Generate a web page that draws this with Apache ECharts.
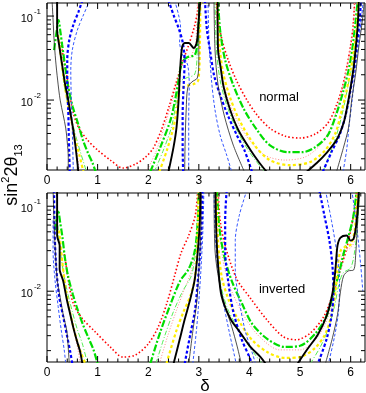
<!DOCTYPE html>
<html><head><meta charset="utf-8">
<script src="https://cdn.jsdelivr.net/npm/echarts@6/dist/echarts.min.js"></script>
<style>html,body{margin:0;padding:0;background:#fff}#c{width:366px;height:393px}</style>
</head><body><div id="c"></div>
<script>
const FONT = 'Liberation Sans, Arial, sans-serif';
const deltaMin = 0, deltaMax = 2 * Math.PI;
const sMin = 0.00147, sMax = 0.143;
const xTickLabels = [0, 1, 2, 3, 4, 5, 6];
const yMajorTicks = [0.01, 0.1];
const yMinorTicks = [0.002,0.003,0.004,0.005,0.006,0.007,0.008,0.009,0.02,0.03,0.04,0.05,0.06,0.07,0.08,0.09];
const panelLabels = ['normal', 'inverted'];

// ---- normal hierarchy (top panel): [delta, sin^2 2theta13]
const nRedA = [[0.28,0.049],[0.33,0.0299],[0.40,0.0183],[0.45,0.0115],[0.52,0.0070],[0.62,0.00477],[0.80,0.00334],[1.0,0.00254],[1.25,0.00193],[1.50,0.00155],[1.75,0.00173],[1.95,0.0021],[2.1,0.00268],[2.26,0.0044],[2.42,0.00871],[2.55,0.0159],[2.67,0.0275],[2.80,0.0452],[2.92,0.0782],[2.98,0.118],[3.0,0.155]];
const nRedB = [[3.34,0.155],[3.38,0.0896],[3.46,0.0518],[3.58,0.0299],[3.74,0.0173],[3.95,0.0100],[4.15,0.00663],[4.4,0.00464],[4.7,0.00373],[5.0,0.00353],[5.3,0.00394],[5.55,0.00532],[5.72,0.00871],[5.83,0.0139],[5.92,0.024],[6.0,0.0452],[6.05,0.0782],[6.08,0.155]];
const nPinkA = [[0.26,0.0452],[0.32,0.0216],[0.38,0.0115],[0.46,0.00628],[0.54,0.00363],[0.60,0.00221],[0.64,0.0014]];
const nPinkB = [[1.96,0.0014],[2.15,0.0024],[2.33,0.00504],[2.48,0.01],[2.58,0.0173],[2.68,0.0261],[2.82,0.0316],[2.93,0.0452],[2.96,0.0896],[2.97,0.155]];
const nPinkC = [[3.34,0.155],[3.38,0.0518],[3.45,0.0228],[3.55,0.0115],[3.75,0.00578],[4.0,0.00334],[4.3,0.00221],[4.7,0.00193],[5.1,0.0021],[5.4,0.00291],[5.6,0.00464],[5.75,0.00871],[5.85,0.0151],[5.95,0.0299],[6.03,0.0594],[6.08,0.155]];
const nGreenA = [[0.14,0.0394],[0.18,0.0594],[0.23,0.0896],[0.26,0.0681],[0.30,0.0452],[0.36,0.0247],[0.42,0.0143],[0.51,0.00826],[0.61,0.00532],[0.71,0.00334],[0.81,0.00234],[0.90,0.00178],[0.96,0.0014]];
const nGreenB = [[2.04,0.0014],[2.24,0.00275],[2.44,0.00578],[2.53,0.01],[2.60,0.0173],[2.67,0.0283],[2.78,0.0325],[2.92,0.0344],[2.98,0.0518],[3.0,0.0896],[3.01,0.155]];
const nGreenC = [[3.38,0.155],[3.42,0.0681],[3.52,0.0299],[3.68,0.0151],[3.9,0.0076],[4.15,0.0044],[4.4,0.00291],[4.75,0.0024],[5.05,0.0024],[5.3,0.00275],[5.55,0.00383],[5.73,0.0072],[5.85,0.0125],[5.95,0.0216],[6.03,0.0394],[6.1,0.0896],[6.14,0.155]];
const nLGreenA = [[0.20,0.072],[0.24,0.0518],[0.28,0.0299],[0.34,0.0151],[0.42,0.00871],[0.50,0.00547],[0.58,0.00353],[0.66,0.0024],[0.74,0.00168],[0.78,0.0014]];
const nLGreenB = [[2.12,0.0014],[2.3,0.00254],[2.46,0.00477],[2.56,0.01],[2.62,0.0164],[2.75,0.0183],[2.92,0.0204],[2.97,0.0394],[2.99,0.0896],[3.0,0.155]];
const nLGreenC = [[3.32,0.155],[3.35,0.0394],[3.42,0.0173],[3.55,0.00871],[3.75,0.0044],[4.0,0.0024],[4.3,0.0014]];
const nLGreenD = [[5.45,0.0014],[5.62,0.00254],[5.75,0.0044],[5.85,0.0076],[5.95,0.0151],[6.05,0.0299],[6.12,0.0681],[6.18,0.155]];
const nYellowA = [[0.22,0.0594],[0.27,0.0344],[0.33,0.0183],[0.40,0.01],[0.48,0.00578],[0.56,0.00334],[0.64,0.00221],[0.72,0.0014]];
const nYellowB = [[2.22,0.0014],[2.37,0.00254],[2.5,0.00477],[2.58,0.00871],[2.62,0.0132],[2.75,0.0147],[2.9,0.0155],[2.99,0.0173],[3.02,0.0452],[3.03,0.155]];
const nYellowC = [[3.36,0.155],[3.40,0.0518],[3.47,0.0228],[3.6,0.0115],[3.8,0.00578],[4.1,0.00291],[4.4,0.00193],[4.8,0.00168],[5.2,0.00183],[5.5,0.00254],[5.7,0.00405],[5.8,0.00663],[5.9,0.0115],[6.0,0.0228],[6.08,0.0452],[6.13,0.0896],[6.16,0.155]];
const nBlueA = [[0.70,0.155],[0.62,0.1116],[0.52,0.0782],[0.44,0.0518],[0.40,0.0299],[0.40,0.0151],[0.42,0.0076],[0.43,0.00383],[0.44,0.00221],[0.45,0.0014]];
const nBlueB = [[2.40,0.155],[2.50,0.103],[2.60,0.072],[2.68,0.049],[2.72,0.0299],[2.70,0.0151],[2.68,0.00663],[2.68,0.00291],[2.69,0.0014]];
const nBlueC = [[3.12,0.155],[3.16,0.0681],[3.22,0.0394],[3.30,0.0198],[3.42,0.0115],[3.57,0.00663],[3.75,0.00383],[3.9,0.00254],[4.05,0.0014]];
const nBlueD = [[5.45,0.0014],[5.62,0.0024],[5.78,0.00383],[5.9,0.00663],[5.98,0.0115],[6.06,0.0228],[6.12,0.0452],[6.18,0.0896],[6.2,0.155]];
const nLBlueA = [[0.85,0.155],[0.72,0.103],[0.6,0.0681],[0.5,0.0394],[0.47,0.0228],[0.48,0.01],[0.50,0.0044],[0.52,0.0014]];
const nLBlueB = [[2.52,0.155],[2.60,0.103],[2.64,0.072],[2.62,0.049],[2.68,0.0344],[2.78,0.0261],[2.81,0.0151],[2.80,0.00663],[2.80,0.00291],[2.80,0.0014]];
const nLBlueC = [[3.18,0.155],[3.20,0.0518],[3.25,0.0173],[3.32,0.0076],[3.42,0.00383],[3.55,0.00221],[3.65,0.0014]];
const nLBlueD = [[5.85,0.0014],[5.92,0.00254],[5.97,0.00504],[6.03,0.01],[6.08,0.0198],[6.15,0.0452],[6.22,0.103],[6.25,0.155]];
const nBlackA = [[0.20,0.155],[0.20,0.0681],[0.24,0.0452],[0.30,0.0261],[0.36,0.0151],[0.42,0.01],[0.47,0.00663],[0.52,0.0044],[0.56,0.00291],[0.59,0.00204],[0.62,0.0014]];
const nBlackB = [[2.40,0.0014],[2.50,0.00275],[2.56,0.00477],[2.60,0.01],[2.63,0.0228],[2.67,0.0428],[2.72,0.0477],[2.80,0.0477],[2.90,0.0416],[2.96,0.049],[2.99,0.0782],[3.03,0.155]];
const nBlackC = [[3.37,0.155],[3.38,0.0394],[3.43,0.0247],[3.49,0.0143],[3.62,0.0076],[3.78,0.0044],[4.02,0.00254],[4.2,0.00178],[4.34,0.0014]];
const nBlackD = [[5.13,0.0014],[5.33,0.00178],[5.52,0.00234],[5.72,0.00334],[5.86,0.00532],[5.93,0.00826],[6.0,0.0143],[6.06,0.0247],[6.1,0.0416],[6.14,0.0782],[6.16,0.155]];
const nThinA = [[0.10,0.155],[0.12,0.0896],[0.14,0.0518],[0.17,0.0299],[0.21,0.0173],[0.26,0.01],[0.32,0.00663],[0.37,0.00464],[0.40,0.00316],[0.42,0.0021],[0.42,0.0014]];
const nThinB = [[2.72,0.0014],[2.73,0.00334],[2.75,0.0076],[2.78,0.0139],[2.86,0.0164],[2.97,0.0183],[3.0,0.0299],[3.0,0.155]];
const nThinC = [[3.30,0.155],[3.32,0.0394],[3.38,0.0151],[3.50,0.00663],[3.68,0.00291],[3.90,0.0014]];
const nThinD = [[5.72,0.0014],[5.86,0.00275],[5.96,0.00477],[6.02,0.01],[6.1,0.021],[6.16,0.0428],[6.24,0.0973],[6.27,0.155]];

// ---- inverted hierarchy (bottom panel)
const iRedA = [[0.33,0.0299],[0.38,0.0198],[0.44,0.0115],[0.52,0.0072],[0.68,0.0049],[0.95,0.00334],[1.25,0.00221],[1.5,0.00168],[1.75,0.00178],[2.0,0.0024],[2.2,0.00383],[2.38,0.0076],[2.52,0.0151],[2.65,0.0283],[2.8,0.0452],[2.93,0.0782],[2.98,0.155]];
const iRedB = [[3.38,0.155],[3.42,0.0681],[3.52,0.0344],[3.75,0.0139],[4.02,0.00826],[4.34,0.00464],[4.67,0.00291],[4.93,0.00268],[5.21,0.00325],[5.47,0.00504],[5.66,0.00973],[5.8,0.0183],[5.92,0.0316],[6.02,0.0594],[6.1,0.1116],[6.12,0.155]];
const iPinkA = [[0.26,0.0394],[0.33,0.0173],[0.40,0.00871],[0.48,0.00504],[0.56,0.00291],[0.62,0.00193],[0.66,0.0014]];
const iPinkB = [[2.22,0.0014],[2.38,0.00291],[2.55,0.00578],[2.7,0.01],[2.85,0.0173],[2.95,0.0394],[2.97,0.155]];
const iPinkC = [[3.38,0.155],[3.42,0.0452],[3.5,0.0198],[3.65,0.01],[3.9,0.00504],[4.2,0.00291],[4.6,0.00204],[5.0,0.00204],[5.3,0.00268],[5.5,0.00416],[5.65,0.0076],[5.75,0.0151],[5.85,0.0283],[5.98,0.0316],[6.08,0.0394],[6.13,0.155]];
const iGreenA = [[0.16,0.0518],[0.19,0.072],[0.22,0.0896],[0.26,0.0645],[0.30,0.0452],[0.36,0.0234],[0.42,0.0147],[0.51,0.00921],[0.61,0.00594],[0.71,0.00405],[0.81,0.00291],[0.92,0.00204],[1.0,0.0014]];
const iGreenB = [[2.04,0.0014],[2.24,0.00334],[2.44,0.007],[2.63,0.0132],[2.8,0.0183],[2.92,0.0299],[2.98,0.0681],[3.0,0.155]];
const iGreenC = [[3.36,0.155],[3.40,0.0594],[3.50,0.0261],[3.65,0.0132],[3.85,0.0072],[4.05,0.00416],[4.35,0.00275],[4.7,0.00221],[5.0,0.00228],[5.3,0.00316],[5.52,0.00504],[5.66,0.00946],[5.78,0.0173],[5.86,0.0275],[5.95,0.0428],[6.05,0.074],[6.12,0.155]];
const iLGreenA = [[0.20,0.0782],[0.25,0.0344],[0.32,0.0173],[0.40,0.01],[0.50,0.00578],[0.60,0.00353],[0.70,0.0024],[0.80,0.0014]];
const iLGreenB = [[2.15,0.0014],[2.32,0.00291],[2.5,0.00578],[2.68,0.01],[2.85,0.0151],[2.94,0.0299],[2.98,0.0681],[2.99,0.155]];
const iLGreenC = [[3.32,0.155],[3.36,0.0344],[3.42,0.0132],[3.55,0.00663],[3.75,0.00383],[4.0,0.00221],[4.25,0.0014]];
const iLGreenD = [[5.2,0.0014],[5.4,0.00221],[5.55,0.00353],[5.68,0.00663],[5.76,0.0115],[5.85,0.0164],[6.0,0.0188],[6.08,0.0299],[6.14,0.0681],[6.18,0.155]];
const iYellowA = [[0.24,0.0518],[0.30,0.0228],[0.36,0.0115],[0.43,0.00663],[0.52,0.00383],[0.60,0.00254],[0.68,0.00183],[0.76,0.0014]];
const iYellowB = [[2.36,0.0014],[2.55,0.00334],[2.7,0.00578],[2.83,0.00871],[2.92,0.0139],[2.97,0.0344],[3.0,0.155]];
const iYellowC = [[3.34,0.155],[3.38,0.0394],[3.45,0.0151],[3.6,0.0076],[3.8,0.0044],[4.05,0.00268],[4.35,0.00193],[4.7,0.00164],[5.0,0.00168],[5.3,0.00216],[5.5,0.00316],[5.63,0.00547],[5.7,0.01],[5.74,0.0183],[5.8,0.0299],[5.9,0.0334],[6.0,0.0353],[6.08,0.0518],[6.14,0.155]];
const iBlueA = [[0.14,0.155],[0.15,0.0518],[0.18,0.0198],[0.24,0.00871],[0.32,0.00504],[0.40,0.00291],[0.46,0.00193],[0.50,0.0014]];
const iBlueB = [[2.72,0.0014],[2.83,0.00308],[2.92,0.00578],[2.97,0.0112],[3.02,0.0261],[3.06,0.0681],[3.07,0.155]];
const iBlueC = [[3.55,0.155],[3.52,0.0681],[3.52,0.0299],[3.58,0.0132],[3.68,0.00578],[3.85,0.00268],[4.0,0.00168],[4.05,0.0014]];
const iBlueD = [[5.38,0.155],[5.48,0.0782],[5.58,0.0394],[5.64,0.0198],[5.66,0.01],[5.62,0.00504],[5.52,0.00268],[5.35,0.0014]];
const iLBlueA = [[0.12,0.0681],[0.12,0.0299],[0.16,0.0132],[0.22,0.00663],[0.28,0.00353],[0.34,0.00204],[0.37,0.0014]];
const iLBlueB = [[2.88,0.0014],[2.95,0.00334],[3.0,0.0076],[3.04,0.0173],[3.08,0.0518],[3.1,0.155]];
const iLBlueC = [[3.30,0.155],[3.32,0.0518],[3.38,0.0173],[3.48,0.0076],[3.6,0.00334],[3.74,0.0014]];
const iLBlueD = [[3.95,0.155],[3.80,0.0782],[3.72,0.0394],[3.72,0.0173],[3.8,0.0076],[3.92,0.00334],[4.05,0.00193],[4.12,0.0014]];
const iLBlueE = [[5.5,0.155],[5.62,0.0681],[5.72,0.0299],[5.78,0.0132],[5.76,0.00578],[5.68,0.00291],[5.56,0.0014]];
const iLBlueF = [[6.02,0.155],[6.08,0.0896],[6.14,0.0452],[6.2,0.0198],[6.24,0.01]];
const iBlackA = [[0.20,0.155],[0.20,0.0452],[0.25,0.0344],[0.25,0.0183],[0.32,0.0132],[0.39,0.00803],[0.46,0.00532],[0.52,0.00373],[0.59,0.00261],[0.65,0.00199],[0.70,0.0014]];
const iBlackB = [[2.50,0.0014],[2.62,0.00268],[2.72,0.00464],[2.83,0.00803],[2.92,0.0139],[2.98,0.0299],[3.02,0.0681],[3.03,0.155]];
const iBlackC = [[3.33,0.155],[3.35,0.0416],[3.39,0.0173],[3.45,0.00871],[3.62,0.00477],[3.82,0.00325],[4.02,0.00221],[4.22,0.00168],[4.32,0.0014]];
const iBlackD = [[4.95,0.0014],[5.15,0.0021],[5.35,0.00308],[5.52,0.00504],[5.64,0.00946],[5.70,0.0183],[5.74,0.0344],[5.80,0.0428],[5.92,0.0452],[6.0,0.0394],[6.06,0.0416],[6.12,0.0681],[6.16,0.155]];
const iThinA = [[0.12,0.155],[0.15,0.0452],[0.20,0.0139],[0.26,0.00849],[0.32,0.00532],[0.39,0.00344],[0.42,0.00216],[0.44,0.0014]];
const iThinB = [[2.80,0.0014],[2.88,0.00334],[2.96,0.0076],[3.0,0.0173],[3.04,0.0518],[3.05,0.155]];
const iThinC = [[3.30,0.155],[3.32,0.0299],[3.40,0.0132],[3.52,0.00663],[3.65,0.00383],[3.76,0.00221],[3.84,0.0014]];
const iThinD = [[5.50,0.0014],[5.64,0.00283],[5.74,0.00532],[5.80,0.01],[5.86,0.0151],[5.95,0.0173],[6.06,0.0178],[6.10,0.0275],[6.14,0.0681],[6.18,0.155]];

const STY = {
  red:    {color:'#ff0000', width:1.6, type:[1.5,2.2], z:3},
  pink:   {color:'#ff8c8c', width:1,   type:[1,1.8],   z:3},
  lgreen: {color:'#55ee55', width:1,   type:[5,2,1,2], z:3},
  green:  {color:'#00dd00', width:2.2, type:[7,2,2,2], z:4},
  yellow: {color:'#ffee00', width:2.2, type:[3,2.5],   z:4},
  lblue:  {color:'#3355ff', width:1,   type:[3,2],     z:5},
  blue:   {color:'#0000ff', width:2.2, type:[3,2.2],   z:5},
  thin:   {color:'#222222', width:0.8, type:'solid',   z:6},
  black:  {color:'#000000', width:1.9, type:'solid',   z:7}
};
const curves = [
  ['red',nRedA,0],['red',nRedB,0],['pink',nPinkA,0],['pink',nPinkB,0],['pink',nPinkC,0],
  ['lgreen',nLGreenA,0],['lgreen',nLGreenB,0],['lgreen',nLGreenC,0],['lgreen',nLGreenD,0],
  ['green',nGreenA,0],['green',nGreenB,0],['green',nGreenC,0],
  ['yellow',nYellowA,0],['yellow',nYellowB,0],['yellow',nYellowC,0],
  ['lblue',nLBlueA,0],['lblue',nLBlueB,0],['lblue',nLBlueC,0],['lblue',nLBlueD,0],
  ['blue',nBlueA,0],['blue',nBlueB,0],['blue',nBlueC,0],['blue',nBlueD,0],
  ['thin',nThinA,0],['thin',nThinB,0],['thin',nThinC,0],['thin',nThinD,0],
  ['black',nBlackA,0],['black',nBlackB,0],['black',nBlackC,0],['black',nBlackD,0],
  ['red',iRedA,1],['red',iRedB,1],['pink',iPinkA,1],['pink',iPinkB,1],['pink',iPinkC,1],
  ['lgreen',iLGreenA,1],['lgreen',iLGreenB,1],['lgreen',iLGreenC,1],['lgreen',iLGreenD,1],
  ['green',iGreenA,1],['green',iGreenB,1],['green',iGreenC,1],
  ['yellow',iYellowA,1],['yellow',iYellowB,1],['yellow',iYellowC,1],
  ['lblue',iLBlueA,1],['lblue',iLBlueB,1],['lblue',iLBlueC,1],['lblue',iLBlueD,1],['lblue',iLBlueE,1],['lblue',iLBlueF,1],
  ['blue',iBlueA,1],['blue',iBlueB,1],['blue',iBlueC,1],['blue',iBlueD,1],
  ['thin',iThinA,1],['thin',iThinB,1],['thin',iThinC,1],['thin',iThinD,1],
  ['black',iBlackA,1],['black',iBlackB,1],['black',iBlackC,1],['black',iBlackD,1]
];

const series = curves.map(([k, data, g]) => ({
  type: 'line', xAxisIndex: g, yAxisIndex: g, data: data,
  showSymbol: false, symbol: 'none', smooth: 0.3, clip: true, silent: true,
  z: STY[k].z,
  lineStyle: {color: STY[k].color, width: STY[k].width, type: STY[k].type}
}));

// tick marks on all four sides, placed via the axes
const xTicks = [];
xTickLabels.forEach(m => {
  xTicks.push([m, 6]);
  for (let j = 1; j <= 4; j++) { const v = m + j * 0.2; if (v < deltaMax) xTicks.push([+v.toFixed(2), 3.5]); }
});
const yTicks = yMajorTicks.map(v => [v, 7]).concat(yMinorTicks.map(v => [v, 4]));
function tickLine(x1, y1, x2, y2) {
  return {type:'line', shape:{x1, y1, x2, y2}, style:{stroke:'#000', lineWidth:1}};
}
[0, 1].forEach(g => {
  series.push({
    type:'custom', xAxisIndex:g, yAxisIndex:g, silent:true, z:10, clip:false,
    data: xTicks, encode:{x:0},
    renderItem: (params, api) => {
      const v = api.value(0), L = api.value(1);
      const b = api.coord([v, sMin]), t = api.coord([v, sMax]);
      return {type:'group', children:[tickLine(b[0], b[1], b[0], b[1]-L), tickLine(t[0], t[1], t[0], t[1]+L)]};
    }
  });
  series.push({
    type:'custom', xAxisIndex:g, yAxisIndex:g, silent:true, z:10, clip:false,
    data: yTicks.map(d => [1, d[0], d[1]]), encode:{x:0, y:1},
    renderItem: (params, api) => {
      const v = api.value(1), L = api.value(2);
      const l = api.coord([deltaMin, v]), r = api.coord([deltaMax, v]);
      return {type:'group', children:[tickLine(l[0], l[1], l[0]+L, l[1]), tickLine(r[0], r[1], r[0]-L, r[1])]};
    }
  });
});

const grids = [
  {left:47, top:3, width:318, height:167},
  {left:47, top:193, width:318, height:169}
].map(g => Object.assign(g, {show:true, borderColor:'#000', borderWidth:1, backgroundColor:'#fff', containLabel:false}));

const xAxes = [0, 1].map(g => ({
  type:'value', gridIndex:g, min:deltaMin, max:deltaMax, interval:1,
  axisLine:{show:false}, axisTick:{show:false}, splitLine:{show:false},
  axisLabel:{show:true, margin:5, color:'#000', fontSize:12, fontFamily:FONT, showMaxLabel:false,
    formatter: v => (xTickLabels.indexOf(v) >= 0 ? String(v) : '')}
}));
const yAxes = [0, 1].map(g => ({
  type:'log', logBase:10, gridIndex:g, min:sMin, max:sMax,
  axisLine:{show:false}, axisTick:{show:false}, splitLine:{show:false}, minorTick:{show:false},
  axisLabel:{show:true, margin:6, color:'#000', fontFamily:FONT, showMinLabel:true, showMaxLabel:true,
    formatter: v => {
      const lg = Math.log10(v), e = Math.round(lg);
      if (Math.abs(lg - e) > 1e-6 || yMajorTicks.every(t => Math.abs(Math.log10(t) - e) > 1e-6)) return '';
      return '{b|10}{s|' + e + '}';
    },
    rich:{
      b:{fontSize:11, fontFamily:FONT, color:'#000', lineHeight:16, verticalAlign:'bottom'},
      s:{fontSize:8, fontFamily:FONT, color:'#000', lineHeight:16, verticalAlign:'top', padding:[0,0,0,1]}
    }}
}));

const chart = echarts.init(document.getElementById('c'), null, {renderer:'canvas'});
chart.setOption({
  animation:false,
  backgroundColor:'#fff',
  grid: grids, xAxis: xAxes, yAxis: yAxes, series: series,
  graphic: [
    {type:'text', x:279, y:97, z:20, style:{text:panelLabels[0], font:'13px ' + FONT, fill:'#000', align:'center', verticalAlign:'middle'}},
    {type:'text', x:282, y:289, z:20, style:{text:panelLabels[1], font:'13px ' + FONT, fill:'#000', align:'center', verticalAlign:'middle'}},
    {type:'text', x:205, y:386, z:20, style:{text:'δ', font:'17px ' + FONT, fill:'#000', align:'center', verticalAlign:'middle'}},
    {type:'text', x:12, y:175, rotation:Math.PI/2, z:20, style:{
      text:'{m|sin}{p|2}{m|2θ}{q|13}', align:'center', verticalAlign:'middle', fill:'#000',
      rich:{
        m:{fontSize:18, fontFamily:FONT, lineHeight:24, verticalAlign:'middle'},
        p:{fontSize:11, fontFamily:FONT, lineHeight:24, verticalAlign:'top'},
        q:{fontSize:11, fontFamily:FONT, lineHeight:24, verticalAlign:'bottom'}
      }}}
  ]
});
</script></body></html>
